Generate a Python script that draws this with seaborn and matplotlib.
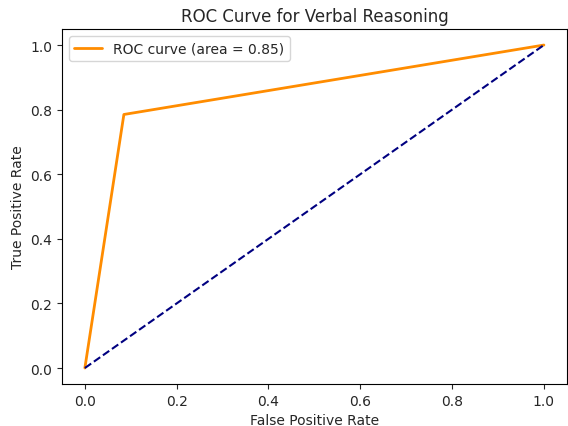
import matplotlib
matplotlib.use("Agg")
import matplotlib.pyplot as plt
import seaborn as sns
import pandas as pd

fpr = [0.0, 0.085, 1.0]
tpr = [0.0, 0.785, 1.0]
chance_x = [0.0, 1.0]
chance_y = [0.0, 1.0]
roc_auc = 0.85

sns.set_style("ticks")
plt.rcParams['font.family'] = ['DejaVu Sans']

fig = plt.figure(figsize=(5.68, 4.27), dpi=100)
ax = fig.add_axes([0.109, 0.098, 0.889, 0.832])

df = pd.DataFrame({"fpr": fpr, "tpr": tpr})
sns.lineplot(data=df, x="fpr", y="tpr", ax=ax, color="darkorange", lw=2,
             sort=False, label=f"ROC curve (area = {roc_auc:.2f})")
sns.lineplot(x=chance_x, y=chance_y, ax=ax, color="navy", lw=1.5, linestyle="--")

ax.set_xlabel("False Positive Rate", fontsize=10)
ax.set_ylabel("True Positive Rate", fontsize=10)
ax.set_title("ROC Curve for Verbal Reasoning", fontsize=12)
ax.set_xticks([0.0, 0.2, 0.4, 0.6, 0.8, 1.0])
ax.set_yticks([0.0, 0.2, 0.4, 0.6, 0.8, 1.0])
ax.tick_params(labelsize=10)
ax.legend(loc="upper left", fontsize=10)
for s in ax.spines.values():
    s.set_visible(True)
    s.set_color("black")
    s.set_linewidth(0.8)

fig.savefig("out.png", dpi=100)
